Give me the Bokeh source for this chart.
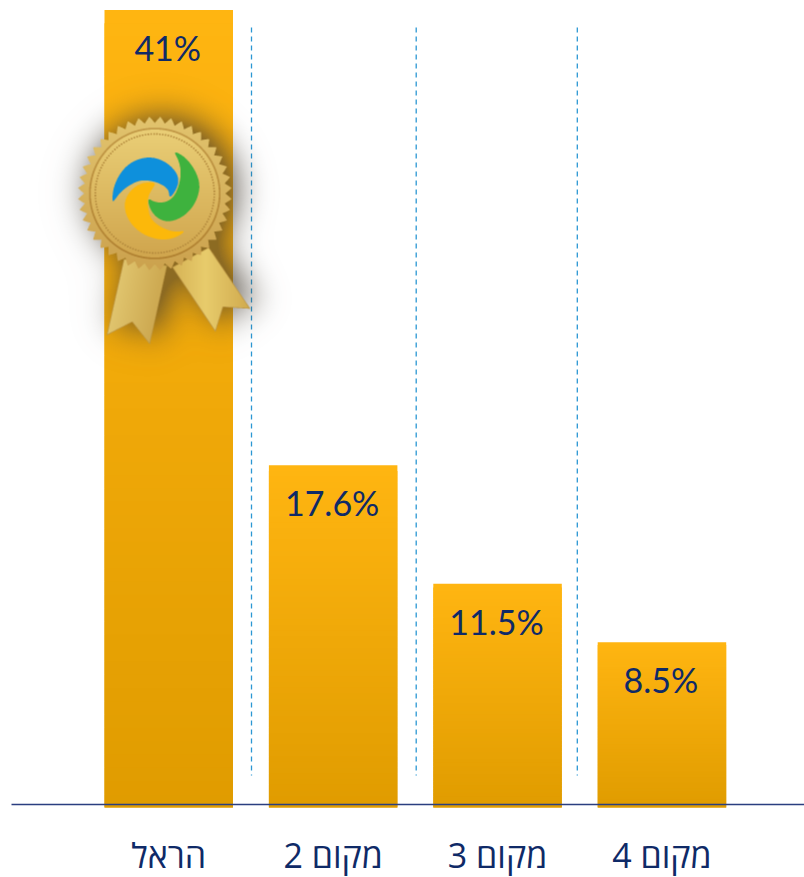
import numpy as np
from bokeh.plotting import figure
from bokeh.models import Range1d
from bokeh.core.properties import value
from bokeh.embed import file_html
from bokeh.resources import INLINE

categories = ["הראל", "מקום 2", "מקום 3", "מקום 4"]
shares = [41.0, 17.6, 11.5, 8.5]
share_labels = ["41%", "17.6%", "11.5%", "8.5%"]

# page-pixel layout
W, H = 804, 877
STEP = 164.4
CENTER0 = 168.25
BASE_Y = 807
PX_PER_UNIT = 19.45
BAR_W = 128.5 / STEP
NAVY = "#0F2A67"
FONT = "Lato"
CAT_FONT = "Open Sans"

def xd(px):
    return (px - CENTER0) / STEP

def yd(py):
    return (BASE_Y - py) / PX_PER_UNIT

p = figure(width=W, height=H, output_backend="svg", toolbar_location=None,
           x_range=Range1d(xd(0), xd(W)),
           y_range=Range1d(yd(H), yd(0)),
           min_border=0)
p.outline_line_color = None
p.grid.visible = False
p.axis.visible = False

# bars: top-to-bottom gradient, drawn as slightly overlapping bands
top_c = np.array([255, 181, 17])
bot_c = np.array([224, 156, 0])
N = 60
for i, v in enumerate(shares):
    for k in range(N):
        f = k / (N - 1)
        c = top_c + (bot_c - top_c) * f
        col = "#%02x%02x%02x" % tuple(int(round(t)) for t in c)
        p.quad(left=i - BAR_W / 2, right=i + BAR_W / 2,
               bottom=max(0, v * (1 - (k + 2) / N)),
               top=v * (1 - k / N), fill_color=col, line_color=None)

# dashed separators
for px in [251, 415.7, 576.8]:
    p.line([xd(px), xd(px)], [yd(27), yd(775)], line_color="#2B97D3",
           line_width=1.3, line_dash="5 4")

# baseline
p.line([xd(11), xd(804)], [yd(804), yd(804)], line_color="#2A3E80", line_width=1.4)

# value labels
p.text(x=list(range(4)), y=shares, text=share_labels, text_align="center",
       text_baseline="middle", y_offset=37.5, x_offset=-1, text_color=NAVY,
       text_font=value(FONT), text_font_size="34px")

# category labels
p.text(x=list(range(4)), y=[0, 0, 0, 0], text=categories, text_align="center",
       text_baseline="alphabetic", y_offset=47, text_color=NAVY,
       text_font=value(CAT_FONT), text_font_size="34px")

# ---------- medal decoration, rendered to a bitmap ----------
X0, Y0, IW, IH = 20, 50, 320, 350
SS = 3
gx, gy = np.meshgrid((np.arange(IW * SS) + .5) / SS + X0,
                     (np.arange(IH * SS) + .5) / SS + Y0)

def down(a):
    return a.reshape(IH, SS, IW, SS).mean(axis=(1, 3))

def zpts(pts):
    a = np.array(pts, float)
    return a / 3 + np.array([70, 90])

def smooth(a, n=2):
    for _ in range(n):
        b = np.roll(a, -1, axis=0)
        a = np.stack([a * .75 + b * .25, a * .25 + b * .75], 1).reshape(-1, 2)
    return a

def poly(a):
    inside = np.zeros(gx.shape, bool)
    x1, y1 = a[:, 0], a[:, 1]
    x2, y2 = np.roll(x1, -1), np.roll(y1, -1)
    for xa, ya, xb, yb in zip(x1, y1, x2, y2):
        if ya == yb:
            continue
        cond = (ya > gy) != (yb > gy)
        inside ^= cond & (gx < (xb - xa) * (gy - ya) / (yb - ya) + xa)
    return inside

def blur(a, s):
    fy = np.fft.fftfreq(a.shape[0])[:, None]
    fx = np.fft.rfftfreq(a.shape[1])[None, :]
    return np.fft.irfft2(np.fft.rfft2(a) * np.exp(-2 * (np.pi * s) ** 2 * (fx ** 2 + fy ** 2)), s=a.shape)

CX, CY = 154.3, 193.0
dx, dy = gx - CX, gy - CY
r = np.hypot(dx, dy)
th = np.arctan2(dy, dx)
teeth = 44
tooth_r = 70.5 + 6.5 * (1 - np.abs(((th / (2 * np.pi) * teeth) % 1) * 2 - 1))
seal = r < tooth_r

rib_l = zpts([(160, 505), (290, 525), (238, 762), (185, 695), (108, 735)])
rib_r = zpts([(305, 530), (415, 470), (540, 655), (458, 650), (435, 725)])
ml, mr = poly(rib_l), poly(rib_r)

blue = poly(smooth(zpts([(125, 337), (128, 292), (150, 245), (185, 212), (235, 198), (280, 210),
                         (315, 240), (326, 270), (316, 300), (297, 324), (295, 300), (280, 285),
                         (250, 272), (210, 268), (175, 285), (150, 305), (135, 325)]), 2))
green = poly(smooth(zpts([(308, 180), (345, 200), (375, 240), (390, 285), (377, 335), (345, 375),
                          (300, 395), (265, 387), (240, 360), (230, 322), (255, 336), (285, 336),
                          (310, 320), (326, 285), (332, 245), (325, 210)]), 2))
yellow = poly(smooth(zpts([(242, 274), (205, 280), (175, 305), (160, 340), (170, 385), (205, 425),
                           (255, 447), (305, 447), (350, 420), (310, 425), (270, 410), (240, 385),
                           (232, 350), (232, 320), (245, 295), (256, 280)]), 2))

def lerp(c1, c2, t):
    t = np.clip(t, 0, 1)[..., None]
    return np.array(c1, float) * (1 - t) + np.array(c2, float) * t

rgb = np.zeros(gx.shape + (3,))
alpha = np.zeros(gx.shape)

def paint(mask, col):
    rgb[mask] = col[mask] if isinstance(col, np.ndarray) and col.ndim == 3 else col
    alpha[mask] = 1

# ribbons
t_l = (gx - 105) / 60 + (gy - 260) / 300
t_r = np.abs((gx - 205) / 45)
paint(ml, lerp((232, 208, 122), (206, 170, 82), t_l))
paint(mr, lerp((232, 204, 108), (208, 170, 78), t_r))
for pts in (rib_l, rib_r):
    edge = np.zeros(gx.shape, bool)
    for a0, b0 in zip(pts, np.roll(pts, -1, axis=0)):
        d = b0 - a0
        L = np.hypot(*d)
        u = np.clip(((gx - a0[0]) * d[0] + (gy - a0[1]) * d[1]) / L ** 2, 0, 1)
        edge |= np.hypot(gx - a0[0] - u * d[0], gy - a0[1] - u * d[1]) < .8
    m = edge & (ml if pts is rib_l else mr)
    rgb[m] = (190, 152, 70)

# seal
t_disc = (dy / 75 + 1) / 2
paint(seal, lerp((226, 196, 110), (204, 162, 78), t_disc))
disc = r < 65.5
inner_col = lerp((236, 210, 122), (206, 162, 74), t_disc)
paint(disc, inner_col)
rim = (r > 64) & (r < 65.8)
rgb[rim] = lerp((196, 156, 74), (176, 128, 48), t_disc)[rim]
dots = (np.abs(r - 59.5) < .8) & (np.sin(th * 130) > 0)
rgb[dots] = (176, 134, 58)

# emblem
for m, c in ((yellow, (252, 184, 10)), (blue, (14, 144, 220)), (green, (62, 178, 62))):
    paint(m, c)

a = down(alpha)
col = np.stack([down(rgb[..., i] * alpha) for i in range(3)], -1)

shape = down((seal | ml | mr).astype(float))
sh = blur(np.roll(np.roll(shape, -3, axis=0), 8, axis=1), 16) * .85
sh2 = blur(shape, 26) * .1
sa = np.clip(sh + sh2, 0, .6)
sc = np.array([70., 62., 50.])
oa = a + sa * (1 - a)
out = (col + sc[None, None] * (sa * (1 - a))[..., None]) / np.maximum(oa, 1e-6)[..., None]
img = np.zeros((IH, IW, 4), dtype=np.uint8)
img[..., :3] = np.clip(out, 0, 255).astype(np.uint8)
img[..., 3] = np.clip(oa * 255, 0, 255).astype(np.uint8)
rgba = img[::-1].view(np.uint32).reshape(IH, IW)
p.image_rgba(image=[rgba], x=xd(X0), y=yd(Y0 + IH), dw=IW / STEP, dh=IH / PX_PER_UNIT)

open("out.html", "w").write(file_html(p, INLINE))
